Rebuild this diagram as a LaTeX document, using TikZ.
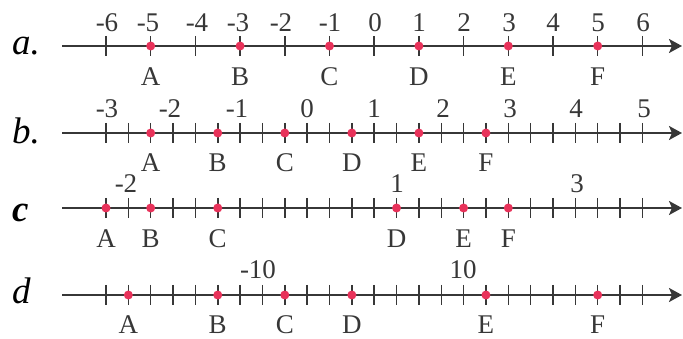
\documentclass[tikz,border=0pt]{standalone}
\usepackage{fontspec}
\setmainfont{Liberation Serif}
\usetikzlibrary{arrows.meta}
\definecolor{ink}{RGB}{55,55,55}
\definecolor{ptred}{RGB}{232,50,90}
\begin{document}
\begin{tikzpicture}[x=1pt,y=-1pt,
  axis/.style={draw=ink,line width=2pt,-{Stealth[length=13pt,width=14pt,inset=3pt]}},
  tickmark/.style={draw=ink,line width=1.5pt},
  dot/.style={circle,fill=ptred,inner sep=0pt,minimum size=9pt},
  num/.style={anchor=base,text=ink,font=\fontsize{27}{30}\selectfont,inner sep=0pt},
  letter/.style={anchor=base,text=ink,font=\fontsize{27}{30}\selectfont,inner sep=0pt},
  rowlab/.style={anchor=base west,text=black,font=\fontsize{37}{40}\selectfont\itshape,inner sep=0pt}]
\useasboundingbox (0,0) rectangle (683,339);

% ---------- row a ----------
\node[rowlab] (ra) at (12,55) {a.};
\coordinate (aS) at (62,46);
\coordinate (aE) at (682,46);
\draw[axis] (aS) -- (aE);
\foreach \k in {0,...,12}{\draw[tickmark] (106+44.7*\k,36) -- (106+44.7*\k,56);}
\foreach \t/\x in {-6/107,-5/148,-4/197,-3/238,-2/281,-1/330,0/375,1/419,2/464,3/509,4/553,5/598,6/643}
  {\node[num] at (\x,32) {\t};}
\foreach \n/\k in {A/1,B/3,C/5,D/7,E/9,F/11}{
  \node[dot] (a\n) at (106+44.7*\k,46) {};
  \node[letter] (a\n l) at (106+44.7*\k,86) {\n};}

% ---------- row b ----------
\node[rowlab] (rb) at (12,144) {b.};
\coordinate (bS) at (62,133);
\coordinate (bE) at (682,133);
\draw[axis] (bS) -- (bE);
\foreach \k in {0,...,24}{\draw[tickmark] (106+22.35*\k,123) -- (106+22.35*\k,143);}
\foreach \t/\x in {-3/107,-2/170,-1/237,0/307,1/374,2/443,3/510,4/576,5/644}
  {\node[num] at (\x,118) {\t};}
\foreach \n/\k in {A/2,B/5,C/8,D/11,E/14,F/17}{
  \node[dot] (b\n) at (106+22.35*\k,133) {};
  \node[letter] (b\n l) at (106+22.35*\k,172) {\n};}

% ---------- row c ----------
\node[rowlab,font=\fontsize{37}{40}\selectfont\itshape\bfseries] (rc) at (12,222) {c};
\coordinate (cS) at (62,208);
\coordinate (cE) at (682,208);
\draw[axis] (cS) -- (cE);
\foreach \k in {0,...,24}{\draw[tickmark] (106+22.35*\k,198) -- (106+22.35*\k,218);}
\foreach \t/\x in {-2/126,1/397,3/577}
  {\node[num] at (\x,193) {\t};}
\foreach \n/\k in {A/0,B/2,C/5,D/13,E/16,F/18}{
  \node[dot] (c\n) at (106+22.35*\k,208) {};
  \node[letter] (c\n l) at (106+22.35*\k,248) {\n};}

% ---------- row d ----------
\node[rowlab] (rd) at (12,303) {d};
\coordinate (dS) at (62,295);
\coordinate (dE) at (682,295);
\draw[axis] (dS) -- (dE);
\foreach \k in {0,...,24}{\draw[tickmark] (106+22.35*\k,285) -- (106+22.35*\k,305);}
\foreach \t/\x in {-10/258,10/463}
  {\node[num] at (\x,279) {\t};}
\foreach \n/\k in {A/1,B/5,C/8,D/11,E/17,F/22}{
  \node[dot] (d\n) at (106+22.35*\k,295) {};
  \node[letter] (d\n l) at (106+22.35*\k,333) {\n};}
\end{tikzpicture}
\end{document}
